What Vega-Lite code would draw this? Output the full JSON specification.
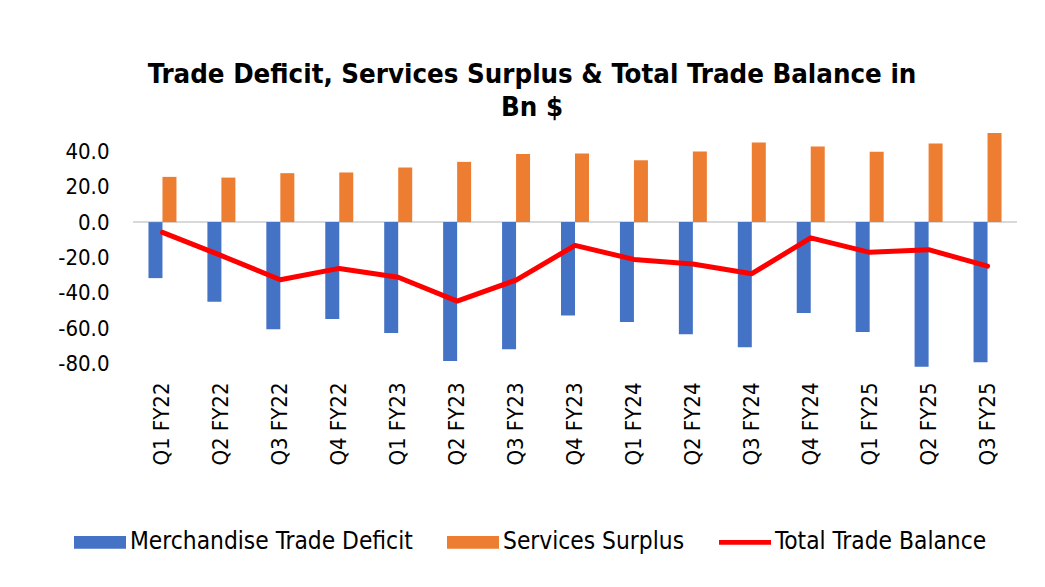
{
  "$schema": "https://vega.github.io/schema/vega-lite/v6.json",
  "width": 884,
  "height": 235,
  "autosize": {"type": "none"},
  "padding": {"left": 133, "top": 132, "right": 28, "bottom": 220},
  "background": "white",
  "config": {
    "view": {"stroke": null},
    "font": "DejaVu Sans Condensed",
    "axisY": {
      "labelFontSize": 22,
      "labelFont": "DejaVu Sans Condensed",
      "labelColor": "#000000",
      "labelPadding": 24,
      "labelOverlap": false,
      "labelFlush": false,
      "ticks": false,
      "domain": false,
      "grid": false,
      "title": null
    }
  },
  "title": {
    "text": ["Trade Deficit, Services Surplus & Total Trade Balance in", "Bn $"],
    "fontSize": 27.4,
    "fontWeight": "bold",
    "font": "DejaVu Sans Condensed",
    "color": "#000000",
    "lineHeight": 33,
    "anchor": "middle",
    "dx": -43,
    "offset": 11
  },
  "data": {
    "values": [
      {"q": "Q1 FY22", "series": "Merchandise Trade Deficit", "value": -31.7},
      {"q": "Q1 FY22", "series": "Services Surplus", "value": 25.6},
      {"q": "Q1 FY22", "series": "Total Trade Balance", "value": -5.8},
      {"q": "Q2 FY22", "series": "Merchandise Trade Deficit", "value": -45.1},
      {"q": "Q2 FY22", "series": "Services Surplus", "value": 25.2},
      {"q": "Q2 FY22", "series": "Total Trade Balance", "value": -19.0},
      {"q": "Q3 FY22", "series": "Merchandise Trade Deficit", "value": -60.6},
      {"q": "Q3 FY22", "series": "Services Surplus", "value": 27.7},
      {"q": "Q3 FY22", "series": "Total Trade Balance", "value": -32.6},
      {"q": "Q4 FY22", "series": "Merchandise Trade Deficit", "value": -54.9},
      {"q": "Q4 FY22", "series": "Services Surplus", "value": 28.1},
      {"q": "Q4 FY22", "series": "Total Trade Balance", "value": -26.2},
      {"q": "Q1 FY23", "series": "Merchandise Trade Deficit", "value": -62.8},
      {"q": "Q1 FY23", "series": "Services Surplus", "value": 30.9},
      {"q": "Q1 FY23", "series": "Total Trade Balance", "value": -31.2},
      {"q": "Q2 FY23", "series": "Merchandise Trade Deficit", "value": -78.6},
      {"q": "Q2 FY23", "series": "Services Surplus", "value": 34.1},
      {"q": "Q2 FY23", "series": "Total Trade Balance", "value": -44.7},
      {"q": "Q3 FY23", "series": "Merchandise Trade Deficit", "value": -72.0},
      {"q": "Q3 FY23", "series": "Services Surplus", "value": 38.5},
      {"q": "Q3 FY23", "series": "Total Trade Balance", "value": -32.8},
      {"q": "Q4 FY23", "series": "Merchandise Trade Deficit", "value": -52.9},
      {"q": "Q4 FY23", "series": "Services Surplus", "value": 38.9},
      {"q": "Q4 FY23", "series": "Total Trade Balance", "value": -13.2},
      {"q": "Q1 FY24", "series": "Merchandise Trade Deficit", "value": -56.5},
      {"q": "Q1 FY24", "series": "Services Surplus", "value": 35.0},
      {"q": "Q1 FY24", "series": "Total Trade Balance", "value": -21.1},
      {"q": "Q2 FY24", "series": "Merchandise Trade Deficit", "value": -63.5},
      {"q": "Q2 FY24", "series": "Services Surplus", "value": 39.9},
      {"q": "Q2 FY24", "series": "Total Trade Balance", "value": -23.7},
      {"q": "Q3 FY24", "series": "Merchandise Trade Deficit", "value": -70.8},
      {"q": "Q3 FY24", "series": "Services Surplus", "value": 45.0},
      {"q": "Q3 FY24", "series": "Total Trade Balance", "value": -29.2},
      {"q": "Q4 FY24", "series": "Merchandise Trade Deficit", "value": -51.4},
      {"q": "Q4 FY24", "series": "Services Surplus", "value": 42.8},
      {"q": "Q4 FY24", "series": "Total Trade Balance", "value": -8.9},
      {"q": "Q1 FY25", "series": "Merchandise Trade Deficit", "value": -62.2},
      {"q": "Q1 FY25", "series": "Services Surplus", "value": 39.8},
      {"q": "Q1 FY25", "series": "Total Trade Balance", "value": -17.1},
      {"q": "Q2 FY25", "series": "Merchandise Trade Deficit", "value": -81.8},
      {"q": "Q2 FY25", "series": "Services Surplus", "value": 44.5},
      {"q": "Q2 FY25", "series": "Total Trade Balance", "value": -15.6},
      {"q": "Q3 FY25", "series": "Merchandise Trade Deficit", "value": -79.3},
      {"q": "Q3 FY25", "series": "Services Surplus", "value": 50.5},
      {"q": "Q3 FY25", "series": "Total Trade Balance", "value": -24.9}
    ]
  },
  "layer": [
    {
      "mark": {"type": "rule", "color": "#d9d9d9", "strokeWidth": 2},
      "encoding": {
        "y": {
          "datum": 0,
          "type": "quantitative",
          "axis": {
            "values": [-80, -60, -40, -20, 0, 20, 40],
            "labelExpr": "(datum.value < 0 ? '-' : '') + format(abs(datum.value), '.1f')"
          }
        }
      }
    },
    {
      "transform": [{"filter": "datum.series !== 'Total Trade Balance'"}],
      "mark": {"type": "bar"},
      "encoding": {
        "x": {
          "field": "q",
          "type": "nominal",
          "sort": null,
          "scale": {"paddingInner": 0.525, "paddingOuter": 0.2625},
          "axis": {
            "title": null,
            "orient": "bottom",
            "labelAngle": 270,
            "labelFontSize": 22,
            "labelFont": "DejaVu Sans Condensed",
            "labelColor": "#000000",
            "labelPadding": 15,
            "ticks": false,
            "domain": false,
            "grid": false
          }
        },
        "xOffset": {
          "field": "series",
          "type": "nominal",
          "sort": ["Merchandise Trade Deficit", "Services Surplus"],
          "scale": {"paddingInner": 0, "paddingOuter": 0}
        },
        "y": {
          "field": "value",
          "type": "quantitative",
          "scale": {"domain": [-82, 51], "nice": false, "zero": false},
          "axis": {
            "values": [-80, -60, -40, -20, 0, 20, 40],
            "labelExpr": "(datum.value < 0 ? '-' : '') + format(abs(datum.value), '.1f')"
          }
        },
        "color": {
          "field": "series",
          "type": "nominal",
          "scale": {
            "domain": ["Merchandise Trade Deficit", "Services Surplus", "Total Trade Balance"],
            "range": ["#4472C4", "#ED7D31", "#FF0000"]
          },
          "legend": {
            "orient": "none",
            "legendX": -59,
            "legendY": 384,
            "direction": "horizontal",
            "title": null,
            "labelFontSize": 24.3,
            "labelFont": "DejaVu Sans Condensed",
            "labelColor": "#000000",
            "labelLimit": 500,
            "labelOffset": 4,
            "columnPadding": 34,
            "symbolType": "M-1,-0.245H1V0.245H-1Z",
            "symbolSize": 2704,
            "symbolStrokeWidth": 0,
            "symbolOpacity": 1,
            "encode": {
              "symbols": {
                "update": {
                  "shape": {"signal": "datum.value === 'Total Trade Balance' ? 'M-1,-0.09H1V0.09H-1Z' : 'M-1,-0.245H1V0.245H-1Z'"}
                }
              }
            }
          }
        }
      }
    },
    {
      "transform": [{"filter": "datum.series === 'Total Trade Balance'"}],
      "mark": {"type": "line", "color": "#FF0000", "strokeWidth": 5, "strokeCap": "round", "strokeJoin": "round"},
      "encoding": {
        "x": {"field": "q", "type": "nominal", "sort": null},
        "y": {
          "field": "value",
          "type": "quantitative",
          "axis": {
            "values": [-80, -60, -40, -20, 0, 20, 40],
            "labelExpr": "(datum.value < 0 ? '-' : '') + format(abs(datum.value), '.1f')"
          }
        }
      }
    }
  ]
}
